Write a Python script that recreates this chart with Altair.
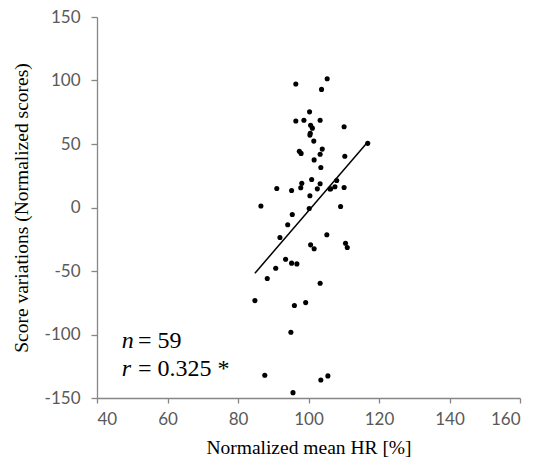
import altair as alt
import pandas as pd

hr = [96.4, 105.3, 103.7, 100.3, 96.4, 98.7, 103.3, 110.1, 100.6, 101.1,
      100.5, 100.4, 101.5, 116.8, 97.4, 97.9, 103.9, 103.3, 110.3, 101.6,
      103.5, 100.9, 108.0, 98.1, 103.3, 97.8, 91.0, 95.2, 102.5, 106.1,
      107.5, 110.1, 100.4, 86.5, 109.1, 100.2, 95.4, 94.1, 91.9, 105.2,
      100.6, 101.6, 110.5, 111.0, 93.5, 95.2, 96.7, 90.7, 88.3, 103.3,
      84.8, 96.0, 99.2, 95.0, 87.6, 103.5, 105.5, 95.6, 106.3]
score = [97.2, 101.4, 93.0, 75.3, 68.1, 68.7, 68.7, 63.6, 64.8, 62.5,
         58.4, 57.0, 52.3, 50.5, 44.3, 42.6, 46.0, 41.9, 40.4, 37.5,
         31.5, 22.0, 21.3, 19.0, 18.7, 15.6, 15.0, 13.4, 14.7, 14.6,
         16.3, 15.7, 9.2, 1.2, 0.8, -0.8, -5.5, -13.6, -23.6, -21.5,
         -29.4, -32.5, -28.1, -31.5, -40.7, -43.8, -44.4, -47.8, -55.9, -59.6,
         -73.3, -77.2, -74.9, -98.2, -132.1, -135.8, -132.6, -145.8, 14.8]

# fitted line
fit_hr = [84.8, 116.8]
fit_score = [-51.7, 51.5]

ann_x = [47.0, 51.6]
ann_y = [-110.5, -133.0]
ann_var = ["n", "r"]
ann_rest = ["= 59", "= 0.325 *"]

df = pd.DataFrame({"hr": hr, "score": score})
fit = pd.DataFrame({"hr": fit_hr, "score": fit_score})
ann = pd.DataFrame({"x": ann_x[:1] * 2, "x2": ann_x[1:] * 2, "y": ann_y,
                    "var": ann_var, "rest": ann_rest})

xscale = alt.Scale(domain=[40, 160], nice=False, zero=False)
yscale = alt.Scale(domain=[-150, 150], nice=False, zero=False)

axis_common = dict(
    grid=False,
    domainColor="#868686",
    tickColor="#868686",
    domainWidth=1.3,
    tickWidth=1.3,
    labelColor="#595959",
    labelFont="Lato",
    labelFontSize=17,
    labelExpr="'' + datum.value",
    titleFont="Liberation Serif",
    titleFontSize=19.5,
    titleFontWeight="normal",
    titleColor="#000000",
)

points = alt.Chart(df).mark_circle(size=26, color="black", opacity=1).encode(
    x=alt.X("hr:Q", scale=xscale,
            axis=alt.Axis(title="Normalized mean HR [%]", values=[40, 60, 80, 100, 120, 140, 160],
                          tickSize=5, labelPadding=8, titlePadding=11, **axis_common)),
    y=alt.Y("score:Q", scale=yscale,
            axis=alt.Axis(title="Score variations (Normalized scores)",
                          values=[-150, -100, -50, 0, 50, 100, 150],
                          tickSize=6, labelPadding=11, titlePadding=13, **axis_common)),
)

line = alt.Chart(fit).mark_line(color="black", strokeWidth=1.5).encode(
    x=alt.X("hr:Q", scale=xscale),
    y=alt.Y("score:Q", scale=yscale),
)

var_text = alt.Chart(ann).mark_text(
    font="Liberation Serif", fontSize=24, fontStyle="italic", align="left", baseline="alphabetic", color="black"
).encode(x=alt.X("x:Q", scale=xscale), y=alt.Y("y:Q", scale=yscale), text="var:N")

rest_text = alt.Chart(ann).mark_text(
    font="Liberation Serif", fontSize=24, align="left", baseline="alphabetic", color="black"
).encode(x=alt.X("x2:Q", scale=xscale), y=alt.Y("y:Q", scale=yscale), text="rest:N")

chart = alt.layer(line, points, var_text, rest_text).properties(
    width=423, height=381,
    autosize=alt.AutoSizeParams(type="none"),
    padding={"left": 97, "top": 17, "right": 20, "bottom": 65},
    background="white",
).configure_view(stroke=None)

chart.save("out.html", embed_options={"renderer": "svg", "actions": False})
